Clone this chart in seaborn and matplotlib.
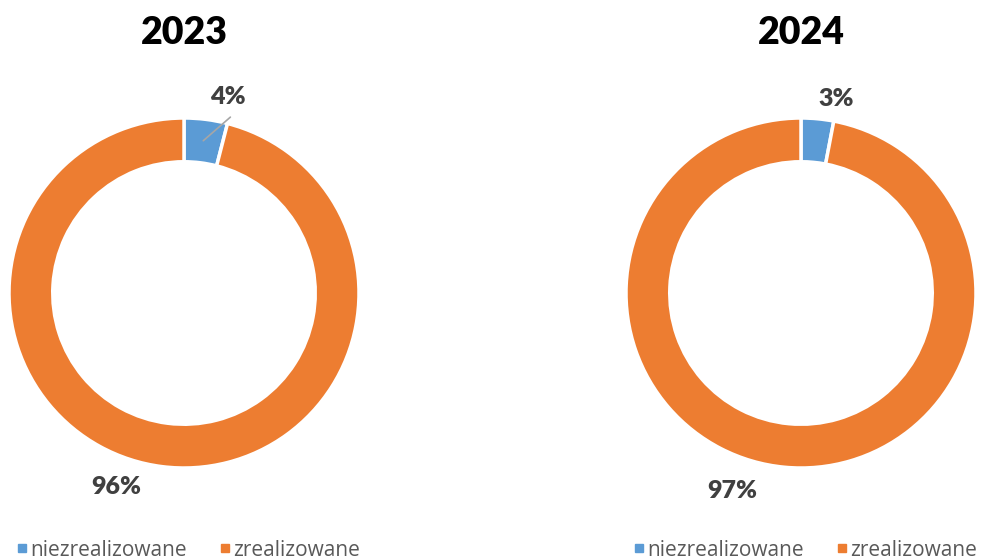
import matplotlib
matplotlib.use('Agg')
import matplotlib.pyplot as plt
from matplotlib.lines import Line2D
import seaborn as sns

sns.set_theme(style='white')
plt.rcParams['font.family'] = ['Open Sans', 'DejaVu Sans']

years = ['2023', '2024']
categories = ['niezrealizowane', 'zrealizowane']
shares = {
    '2023': [4, 96],
    '2024': [3, 97],
}
colors = ['#5B9BD5', '#ED7D31']

# label offsets (data units), one pair per slice
label_pos = {
    '2023': [(0.25, 1.12), (-0.39, -1.11)],
    '2024': [(0.20, 1.11), (-0.39, -1.13)],
}
# leader line for the small 2023 slice (wedge point -> label)
leader = {'2023': [(0.11, 0.87), (0.265, 1.005)], '2024': None}

bold = dict(family=['Lato', 'DejaVu Sans'], weight='heavy')

fig = plt.figure(figsize=(9.84, 5.6), dpi=100)
W, H = 984, 560
centers_x = [184, 801]
cy, r = 293, 175

for i, year in enumerate(years):
    cx = centers_x[i]
    ax = fig.add_axes([(cx - r) / W, (H - cy - r) / H, 2 * r / W, 2 * r / H])
    wedges, _ = ax.pie(shares[year], colors=colors, startangle=90, counterclock=False,
                       radius=1, wedgeprops=dict(width=0.25, edgecolor='white', linewidth=2.5))
    ax.set_xlim(-1, 1)
    ax.set_ylim(-1, 1)
    ax.set_aspect('equal')
    ax.axis('off')

    if leader[year]:
        (x0, y0), (x1, y1) = leader[year]
        ax.plot([x0, x1], [y0, y1], color='#A6A6A6', lw=1.2, clip_on=False)

    for j, val in enumerate(shares[year]):
        x, y = label_pos[year][j]
        ax.text(x, y, f'{val}%', ha='center', va='center', fontsize=18,
                color='#404040', clip_on=False, **bold)

    fig.text(cx / W, 1 - 33 / H, year, ha='center', va='center', fontsize=27,
             color='black', **bold)

    handles = [Line2D([], [], marker='s', linestyle='', markersize=5.5,
                      markerfacecolor=c, markeredgecolor=c) for c in colors]
    leg = fig.legend(handles, categories, loc='center left',
                     bbox_to_anchor=((cx - r + 9) / W, 1 - 550 / H),
                     ncol=2, frameon=False, fontsize=15, handlelength=0.4,
                     handletextpad=0.2, columnspacing=1.6,
                     borderpad=0, borderaxespad=0)
    for t in leg.get_texts():
        t.set_color('#595959')

fig.savefig('out.png', dpi=100, facecolor='white')
